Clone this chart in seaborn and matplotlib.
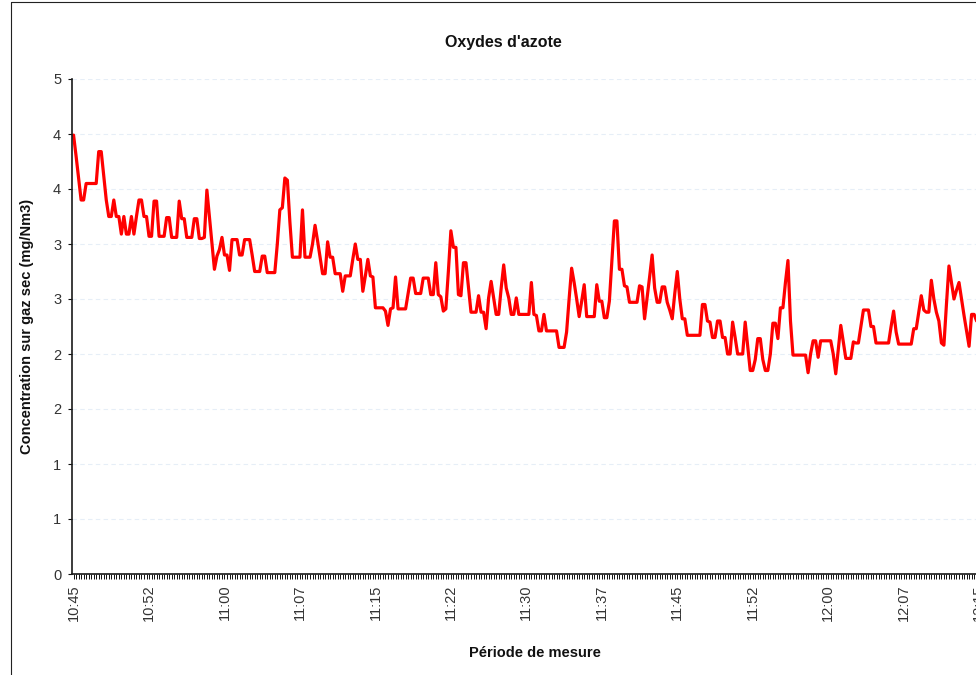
import numpy as np
import pandas as pd
import matplotlib
matplotlib.use('Agg')
import matplotlib.pyplot as plt
import seaborn as sns

# NOx concentration, one reading every 15 s starting at 10:45
nox = [
    3.99, 3.80, 3.60, 3.40, 3.40, 3.55, 3.55, 3.55, 3.55, 3.55,
    3.84, 3.84, 3.62, 3.40, 3.25, 3.25, 3.40, 3.25, 3.25, 3.09,
    3.25, 3.09, 3.09, 3.25, 3.09, 3.25, 3.40, 3.40, 3.25, 3.25,
    3.07, 3.07, 3.39, 3.39, 3.07, 3.07, 3.07, 3.24, 3.24, 3.06,
    3.06, 3.06, 3.39, 3.23, 3.23, 3.06, 3.06, 3.06, 3.23, 3.23,
    3.05, 3.05, 3.06, 3.49, 3.25, 3.00, 2.77, 2.89, 2.95, 3.06,
    2.90, 2.90, 2.76, 3.04, 3.04, 3.04, 2.90, 2.90, 3.04, 3.04,
    3.04, 2.90, 2.75, 2.75, 2.75, 2.89, 2.89, 2.74, 2.74, 2.74,
    2.74, 3.00, 3.31, 3.33, 3.60, 3.58, 3.20, 2.88, 2.88, 2.88,
    2.88, 3.31, 2.88, 2.88, 2.88, 3.00, 3.17, 3.03, 2.88, 2.73,
    2.73, 3.02, 2.88, 2.88, 2.73, 2.73, 2.73, 2.57, 2.71, 2.71,
    2.71, 2.86, 3.00, 2.86, 2.86, 2.57, 2.71, 2.86, 2.71, 2.70,
    2.42, 2.42, 2.42, 2.42, 2.39, 2.26, 2.41, 2.42, 2.70, 2.41,
    2.41, 2.41, 2.41, 2.55, 2.69, 2.69, 2.55, 2.55, 2.55, 2.69,
    2.69, 2.69, 2.54, 2.54, 2.83, 2.54, 2.52, 2.39, 2.41, 2.75,
    3.12, 2.97, 2.97, 2.54, 2.53, 2.83, 2.83, 2.60, 2.38, 2.38,
    2.38, 2.53, 2.38, 2.38, 2.23, 2.51, 2.66, 2.51, 2.36, 2.36,
    2.60, 2.81, 2.60, 2.51, 2.36, 2.36, 2.51, 2.36, 2.36, 2.36,
    2.36, 2.36, 2.65, 2.36, 2.35, 2.21, 2.21, 2.36, 2.21, 2.21,
    2.21, 2.21, 2.21, 2.06, 2.06, 2.06, 2.20, 2.50, 2.78, 2.65,
    2.50, 2.34, 2.48, 2.63, 2.34, 2.34, 2.34, 2.34, 2.63, 2.48,
    2.48, 2.33, 2.33, 2.48, 2.85, 3.21, 3.21, 2.77, 2.77, 2.62,
    2.61, 2.47, 2.47, 2.47, 2.47, 2.62, 2.61, 2.32, 2.51, 2.70,
    2.90, 2.60, 2.47, 2.47, 2.61, 2.61, 2.47, 2.40, 2.32, 2.55,
    2.75, 2.50, 2.32, 2.32, 2.17, 2.17, 2.17, 2.17, 2.17, 2.17,
    2.45, 2.45, 2.30, 2.29, 2.15, 2.15, 2.30, 2.30, 2.15, 2.15,
    2.00, 2.00, 2.29, 2.15, 2.00, 2.00, 2.00, 2.29, 2.07, 1.85,
    1.85, 1.95, 2.14, 2.14, 1.95, 1.85, 1.85, 2.00, 2.28, 2.28,
    2.14, 2.42, 2.42, 2.65, 2.85, 2.30, 1.99, 1.99, 1.99, 1.99,
    1.99, 1.99, 1.83, 2.00, 2.12, 2.12, 1.97, 2.12, 2.12, 2.12,
    2.12, 2.12, 2.00, 1.82, 2.04, 2.26, 2.11, 1.96, 1.96, 1.96,
    2.11, 2.10, 2.10, 2.25, 2.40, 2.40, 2.40, 2.25, 2.25, 2.10,
    2.10, 2.10, 2.10, 2.10, 2.10, 2.25, 2.39, 2.20, 2.09, 2.09,
    2.09, 2.09, 2.09, 2.09, 2.23, 2.23, 2.38, 2.53, 2.40, 2.38,
    2.38, 2.67, 2.50, 2.38, 2.30, 2.10, 2.08, 2.45, 2.80, 2.65,
    2.50, 2.58, 2.65, 2.50, 2.35, 2.21, 2.07, 2.36, 2.36, 2.30,
]
time_labels = ['10:45', '10:52', '11:00', '11:07', '11:15', '11:22', '11:30',
               '11:37', '11:45', '11:52', '12:00', '12:07', '12:15']
y_ticks = [0, 0.5, 1, 1.5, 2, 2.5, 3, 3.5, 4, 4.5]
y_tick_labels = ['0', '1', '1', '2', '2', '3', '3', '4', '4', '5']

n_slots = 368  # categories on the axis (plot runs past the crop)
df = pd.DataFrame({'pas': np.arange(len(nox)), 'conc': nox})

sns.set_theme(style='white')
plt.rcParams['font.family'] = ['Liberation Sans', 'DejaVu Sans']

W, H = 976, 675
fig = plt.figure(figsize=(W / 100, H / 100), dpi=100)
ax = fig.add_axes([72.3 / W, 1 - 574 / H, 925.7 / W, 495 / H])

sns.lineplot(data=df, x='pas', y='conc', ax=ax, color='#ff0000', linewidth=2.3)

ax.set_xlim(-0.5, n_slots - 0.5)
ax.set_ylim(0, 4.5)
ax.set_xticks(np.arange(0, 30 * len(time_labels), 30))
ax.set_xticklabels(time_labels, rotation=90)
ax.set_xticks(np.arange(0, n_slots), minor=True)
ax.set_yticks(y_ticks)
ax.set_yticklabels(y_tick_labels)
ax.set_xlabel('')
ax.set_ylabel('')

ax.tick_params(axis='x', which='both', direction='out', length=3.6, width=0.7,
               color='#111111', bottom=True, labelsize=10.5, labelcolor='#333333', pad=4)
ax.tick_params(axis='y', which='major', direction='out', length=3, width=0.8,
               color='#111111', left=True, labelsize=10.5, labelcolor='#333333', pad=5)

ax.yaxis.grid(True, color='#e6eef7', linestyle=(0, (4, 3)), linewidth=0.8)
ax.set_axisbelow(True)
for side in ['top', 'right']:
    ax.spines[side].set_visible(False)
for side in ['left', 'bottom']:
    ax.spines[side].set_color('#1a1a1a')
    ax.spines[side].set_linewidth(1.2)

fig.text(503 / W, 1 - 43 / H, "Oxydes d'azote", ha='center', va='center',
         fontsize=11.5, fontweight='bold', color='#111111')
fig.text(535 / W, 1 - 653 / H, 'Période de mesure', ha='center', va='center',
         fontsize=10.5, fontweight='bold', color='#111111')
fig.text(27 / W, 1 - 326 / H, 'Concentration sur gaz sec (mg/Nm3)', ha='center',
         va='center', rotation=90, fontsize=10.5, fontweight='bold', color='#111111')

# chart area border (left and top edges visible in the crop)
fig.add_artist(plt.Line2D([10.5 / W, 10.5 / W], [0, 1 - 1.5 / H], color='#222222', lw=0.8))
fig.add_artist(plt.Line2D([10.5 / W, 1], [1 - 1.5 / H, 1 - 1.5 / H], color='#222222', lw=0.8))

fig.savefig('out.png', dpi=100)
